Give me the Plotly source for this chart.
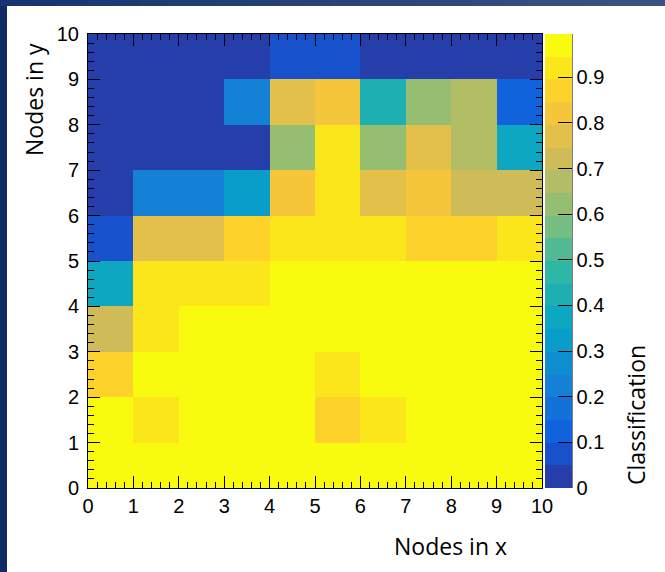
import plotly.graph_objects as go

# ---------------- data ----------------
x_centers = [0.5, 1.5, 2.5, 3.5, 4.5, 5.5, 6.5, 7.5, 8.5, 9.5]
y_centers = [0.5, 1.5, 2.5, 3.5, 4.5, 5.5, 6.5, 7.5, 8.5, 9.5]

# classification value per cell, rows from y=0 (bottom) to y=9 (top)
row_y0 = [0.97, 0.97, 0.97, 0.97, 0.97, 0.97, 0.97, 0.97, 0.97, 0.97]
row_y1 = [0.97, 0.92, 0.97, 0.97, 0.97, 0.87, 0.92, 0.97, 0.97, 0.97]
row_y2 = [0.87, 0.97, 0.97, 0.97, 0.97, 0.92, 0.97, 0.97, 0.97, 0.97]
row_y3 = [0.72, 0.92, 0.97, 0.97, 0.97, 0.97, 0.97, 0.97, 0.97, 0.97]
row_y4 = [0.37, 0.92, 0.92, 0.92, 0.97, 0.97, 0.97, 0.97, 0.97, 0.97]
row_y5 = [0.07, 0.77, 0.77, 0.87, 0.92, 0.92, 0.92, 0.87, 0.87, 0.92]
row_y6 = [0.02, 0.22, 0.22, 0.32, 0.82, 0.92, 0.77, 0.82, 0.72, 0.72]
row_y7 = [0.02, 0.02, 0.02, 0.02, 0.62, 0.92, 0.62, 0.77, 0.67, 0.37]
row_y8 = [0.02, 0.02, 0.02, 0.22, 0.77, 0.82, 0.42, 0.62, 0.67, 0.12]
row_y9 = [0.02, 0.02, 0.02, 0.02, 0.07, 0.07, 0.02, 0.02, 0.02, 0.02]
z_values = [row_y0, row_y1, row_y2, row_y3, row_y4,
            row_y5, row_y6, row_y7, row_y8, row_y9]

axis_ticks = [0, 1, 2, 3, 4, 5, 6, 7, 8, 9, 10]
cbar_tickvals = [0, 0.1, 0.2, 0.3, 0.4, 0.5, 0.6, 0.7, 0.8, 0.9]
cbar_ticktext = ["0", "0.1", "0.2", "0.3", "0.4", "0.5", "0.6", "0.7", "0.8", "0.9"]
z_min = 0.0
z_max = 0.995
n_levels = 20

# ROOT "bird" palette stops
pal_stops = [0.0000, 0.1250, 0.2500, 0.3750, 0.5000, 0.6250, 0.7500, 0.8750, 1.0000]
pal_red = [0.2082, 0.0592, 0.0780, 0.0232, 0.1802, 0.5301, 0.8186, 0.9956, 0.9764]
pal_green = [0.1664, 0.3599, 0.5041, 0.6419, 0.7178, 0.7492, 0.7328, 0.7862, 0.9832]
pal_blue = [0.5293, 0.8684, 0.8385, 0.7914, 0.6425, 0.4662, 0.3499, 0.1968, 0.0539]


def bird(p):
    for k in range(len(pal_stops) - 1):
        if pal_stops[k] <= p <= pal_stops[k + 1]:
            t = (p - pal_stops[k]) / (pal_stops[k + 1] - pal_stops[k])
            r = pal_red[k] + (pal_red[k + 1] - pal_red[k]) * t
            g = pal_green[k] + (pal_green[k + 1] - pal_green[k]) * t
            b = pal_blue[k] + (pal_blue[k + 1] - pal_blue[k]) * t
            return "rgb(%d,%d,%d)" % (round(r * 255), round(g * 255), round(b * 255))
    return "rgb(249,251,14)"


colorscale = []
for i in range(n_levels):
    c = bird((i + 0.99) / n_levels)
    colorscale.append([i / n_levels, c])
    colorscale.append([(i + 1) / n_levels, c])

# ---------------- layout geometry (pixels) ----------------
W, H = 665, 572
L, R, T, B = 88, 542, 34, 488
pw, ph = R - L, B - T


def px(xp):
    return (xp - L) / pw


def py(yp):
    return (B - yp) / ph


tick_font = dict(family="Liberation Sans", size=20, color="black")

fig = go.Figure()
fig.add_trace(go.Heatmap(
    x=x_centers, y=y_centers, z=z_values,
    zmin=z_min, zmax=z_max, colorscale=colorscale,
    colorbar=dict(
        x=px(545), xanchor="left", xpad=0, ypad=0,
        y=0.5, yanchor="middle",
        thickness=27, thicknessmode="pixels",
        len=ph, lenmode="pixels",
        outlinewidth=0,
        ticks="inside", ticklen=14, tickwidth=1, tickcolor="black",
        tickvals=cbar_tickvals, ticktext=cbar_ticktext,
        tickfont=tick_font,
    ),
    hoverinfo="x+y+z",
))

axis_common = dict(
    range=[0, 10], tickvals=axis_ticks, ticks="inside", ticklen=12,
    tickwidth=1, tickcolor="black", showline=True, linecolor="black",
    linewidth=1, mirror="allticks", showgrid=False, zeroline=False,
    tickfont=tick_font,
    minor=dict(dtick=0.2, tick0=0, ticks="inside", ticklen=6,
               tickcolor="black", tickwidth=1, showgrid=False),
)
fig.update_xaxes(**axis_common)
fig.update_yaxes(**axis_common, ticklabelstandoff=4)

shapes = []
# colorbar axis line on the right
shapes.append(dict(type="line", xref="paper", yref="paper",
                   x0=px(572), x1=px(572), y0=0, y1=1,
                   line=dict(color="black", width=1)))
# dark blue frame: left strip
shapes.append(dict(type="rect", xref="paper", yref="paper",
                   x0=px(-4), x1=px(7), y0=py(H + 4), y1=py(-4),
                   line=dict(width=0), fillcolor="rgb(16,42,100)"))
# top strip, gradient
nseg = 24
c0 = (22, 52, 110)
c1 = (60, 82, 130)
for s in range(nseg):
    t = s / (nseg - 1)
    col = "rgb(%d,%d,%d)" % tuple(round(a + (b - a) * t) for a, b in zip(c0, c1))
    shapes.append(dict(type="rect", xref="paper", yref="paper",
                       x0=px(W * s / nseg), x1=px(W * (s + 1) / nseg + 1),
                       y0=py(6), y1=py(-6),
                       line=dict(width=0), fillcolor=col))

title_font = dict(family="Open Sans", size=23, color="black")
annotations = [
    dict(text="Nodes in y", xref="paper", yref="paper", x=px(34), y=py(100),
         textangle=-90, showarrow=False, xanchor="center", yanchor="middle",
         font=title_font),
    dict(text="Nodes in x", xref="paper", yref="paper", x=px(450), y=py(546),
         showarrow=False, xanchor="center", yanchor="middle", font=title_font),
    dict(text="Classification", xref="paper", yref="paper", x=px(636), y=py(415),
         textangle=-90, showarrow=False, xanchor="center", yanchor="middle",
         font=title_font),
]

fig.update_layout(
    width=W, height=H, autosize=False,
    margin=dict(l=L, r=W - R, t=T, b=H - B, pad=0),
    paper_bgcolor="white", plot_bgcolor="white",
    shapes=shapes, annotations=annotations,
    showlegend=False,
)

fig.write_html(
    "out.html",
    config={"displayModeBar": False},
    post_script="document.body.style.margin='0px';document.body.style.overflow='hidden';",
)
